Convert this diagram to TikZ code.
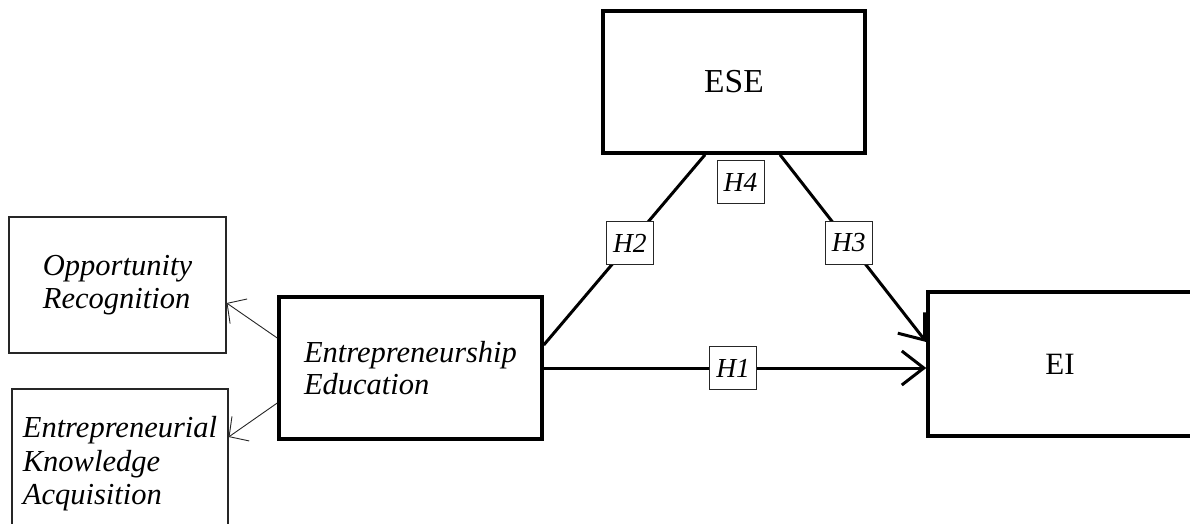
\documentclass[tikz,border=0pt]{standalone}
\usepackage{fontspec}
\setmainfont{Liberation Serif}
\usetikzlibrary{arrows.meta}
\begin{document}
\begin{tikzpicture}[x=1pt,y=-1pt,
  bigbox/.style={draw=black, line width=3.5pt, rectangle, inner sep=0pt, minimum width=263pt, minimum height=143pt},
  smallbox/.style={draw=black!85, line width=1.2pt, rectangle, inner sep=0pt, align=left,
     font=\fontsize{30.5}{33.5}\selectfont\itshape},
  hbox/.style={draw=black!85, fill=white, line width=1pt, rectangle, inner sep=0pt,
     minimum width=47pt, minimum height=43pt, font=\fontsize{27.5}{30}\selectfont\itshape},
  thickline/.style={line width=3pt},
  thickarrow/.style={line width=3pt, -{Straight Barb[length=22pt,width=34pt]}},
  thinarrow/.style={line width=0.9pt, draw=black!85, -{Straight Barb[length=14pt,width=30pt]}}
]
\useasboundingbox (0,0) rectangle (1190,523);
% main boxes
\node[bigbox, minimum width=262pt, minimum height=142pt, font=\fontsize{33.5}{36}\selectfont] (ese) at (734,82) {ESE};
\node[bigbox, minimum width=263pt, minimum height=142pt, align=left, font=\fontsize{30.5}{32.5}\selectfont\itshape] (ee) at (410.5,368) {Entrepreneurship\\Education};
\node[bigbox, minimum width=264pt, minimum height=144pt, font=\fontsize{31}{34}\selectfont] (ei) at (1060,364) {EI};
% dimension boxes
\node[smallbox, minimum width=217pt, minimum height=136pt] (or) at (117.5,285) {Opportunity\\Recognition};
\node[smallbox, minimum width=216pt, minimum height=150pt] (eka) at (120,464) {Entrepreneurial\\Knowledge\\Acquisition};
% connectors
\draw[thickline] ([xshift=-29pt]ese.south) -- ([yshift=23pt]ee.east)
   node[hbox, pos=0.466] (h2) {H2};
\draw[thickarrow] ([xshift=46pt]ese.south) -- ([yshift=22pt]ei.west)
   node[hbox, pos=0.47] (h3) {H3};
\draw[thickarrow] (ee.east) -- (ee.east -| ei.west)
   node[hbox, pos=0.495] (h1) {H1};
\node[hbox] (h4) at (740.5,182) {H4};
\draw[thinarrow] ([yshift=30pt]ee.west) -- ([yshift=-18pt]or.east);
\draw[thinarrow] ([yshift=-35pt]ee.west) -- ([yshift=27pt]eka.east);
\end{tikzpicture}
\end{document}
